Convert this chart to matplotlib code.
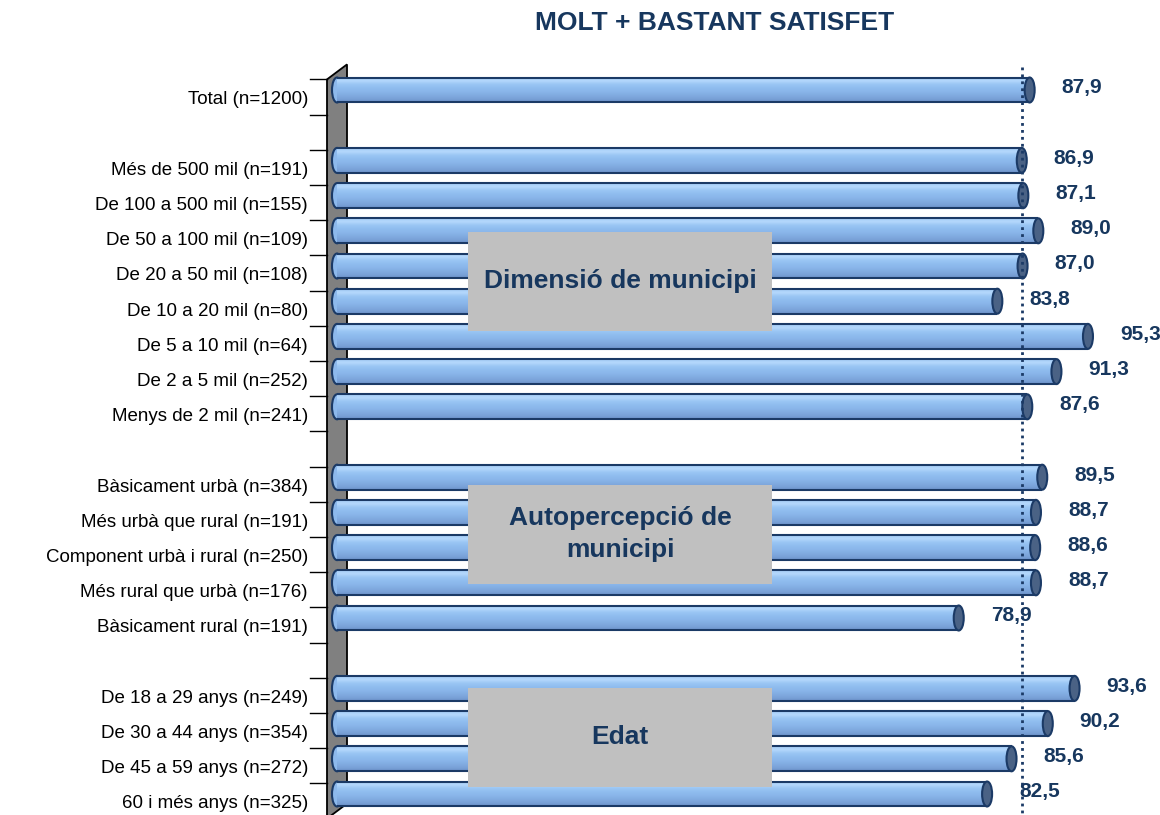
import numpy as np
import matplotlib
matplotlib.use("Agg")
import matplotlib.pyplot as plt
from matplotlib.patches import Ellipse, Polygon, Rectangle
from matplotlib.colors import to_rgb
from matplotlib.transforms import ScaledTranslation

plt.rcParams["font.family"] = ["Liberation Sans", "DejaVu Sans"]

title = "MOLT + BASTANT SATISFET"

total_labels = ["Total (n=1200)"]
total_values = [87.9]

size_labels = [
    "Més de 500 mil (n=191)",
    "De 100 a 500 mil (n=155)",
    "De 50 a 100 mil (n=109)",
    "De 20 a 50 mil (n=108)",
    "De 10 a 20 mil (n=80)",
    "De 5 a 10 mil (n=64)",
    "De 2 a 5 mil (n=252)",
    "Menys de 2 mil (n=241)",
]
size_values = [86.9, 87.1, 89.0, 87.0, 83.8, 95.3, 91.3, 87.6]

self_labels = [
    "Bàsicament urbà (n=384)",
    "Més urbà que rural (n=191)",
    "Component urbà i rural (n=250)",
    "Més rural que urbà (n=176)",
    "Bàsicament rural (n=191)",
]
self_values = [89.5, 88.7, 88.6, 88.7, 78.9]

age_labels = [
    "De 18 a 29 anys (n=249)",
    "De 30 a 44 anys (n=354)",
    "De 45 a 59 anys (n=272)",
    "60 i més anys (n=325)",
]
age_values = [93.6, 90.2, 85.6, 82.5]

group_names = [None, "Dimensió de municipi", "Autopercepció de\nmunicipi", "Edat"]
box_shift = [0, -0.06, -0.38, -0.11]   # box centre relative to group middle (slots)

groups = [
    (total_labels, total_values),
    (size_labels, size_values),
    (self_labels, self_values),
    (age_labels, age_values),
]

NAVY = "#17375E"
EDGE = "#1B3A66"

# slots: one blank row between groups
labels, values, slots, group_spans = [], [], [], []
pos = 0
for labs, vals in groups:
    start = pos
    for lab, val in zip(labs, vals):
        labels.append(lab)
        values.append(val)
        slots.append(pos)
        pos += 1
    group_spans.append((start, pos - 1))
    pos += 1
n_slots = pos - 1

fig = plt.figure(figsize=(11.6, 8.15), dpi=100)
px_per_unit = 7.88
ax = fig.add_axes([337 / 1160, 3.4 / 815, 823 / 1160, 739.2 / 815])
ax.set_xlim(0, 823 / px_per_unit)
ax.set_ylim(n_slots - 0.5, -0.5)
ax.axis("off")
u = 1 / px_per_unit          # data units per pixel (x)
s = 1 / 35.2                 # slots per pixel (y)

# front plane of the 3D chart is shifted left / down
front = ax.transData + ScaledTranslation(-8 / 100, -7 / 100, fig.dpi_scale_trans)

# back wall
top, bot = -0.5, n_slots - 0.5
wall = Polygon(
    [(-2 * u, top), (18 * u, top - 15 * s), (18 * u, bot - 15 * s), (-2 * u, bot)],
    closed=True, facecolor="#808080", edgecolor="black", linewidth=1.3,
    transform=front, clip_on=False, zorder=1,
)
ax.add_patch(wall)

# tick marks at the slot boundaries
for b in np.arange(top, bot + 0.01, 1.0):
    ax.plot([-19 * u, -2 * u], [b, b], color="black", lw=1.0,
            transform=front, clip_on=False, zorder=1)

# category labels
for lab, y in zip(labels, slots):
    ax.text(-21 * u, y + 3 * s, lab, ha="right", va="center", fontsize=13.5,
            color="black", transform=front, clip_on=False)

# cylinder bars
stops = ["#A6CDF8", "#B4D8FC", "#9AC6F4", "#90BDEF", "#8AB6EA", "#82ADE2", "#7AA2D8", "#6E95CC"]
grad = np.array([to_rgb(c) for c in stops])
fine = np.linspace(0, 1, 60)
grad = np.stack([np.interp(fine, np.linspace(0, 1, len(stops)), grad[:, k]) for k in range(3)], axis=1)
grad = grad[:, None, :]

h = 0.71
cap_w = 10 * u
for v, y in zip(values, slots):
    ax.add_patch(Ellipse((0, y), cap_w, h, facecolor="#8DB9EC", edgecolor=EDGE,
                         lw=1.5, zorder=2, clip_on=False))
    ax.imshow(grad, extent=(0, v, y + h / 2, y - h / 2), origin="upper",
              aspect="auto", interpolation="bilinear", zorder=3)
    ax.hlines([y - h / 2, y + h / 2], 0, v, color=EDGE, lw=1.5, zorder=4)
    ax.add_patch(Ellipse((v, y), cap_w, h, facecolor="#4A6285", edgecolor=EDGE,
                         lw=1.5, zorder=5))
    ax.annotate(f"{v:.1f}".replace(".", ","), (v, y), xytext=(23, 1.5),
                textcoords="offset points", ha="left", va="center",
                fontsize=15, fontweight="bold", color=NAVY, zorder=6,
                annotation_clip=False)

ax.set_xlim(0, 823 / px_per_unit)
ax.set_ylim(n_slots - 0.5, -0.5)

# reference line at the total
ax.plot([total_values[0]] * 2, [top - 12 * s, bot + 1], color=EDGE, lw=2,
        linestyle=(0, (1, 1.5)), transform=front, clip_on=False, zorder=7)

# group boxes
box_x0, box_x1 = 131 * u, 435 * u
for name, (a, b), dy in zip(group_names, group_spans, box_shift):
    if name is None:
        continue
    mid = (a + b) / 2 + dy
    ax.add_patch(Rectangle((box_x0, mid - 1.4), box_x1 - box_x0, 2.8,
                           facecolor="#C0C0C0", edgecolor="none", zorder=8))
    ax.text((box_x0 + box_x1) / 2, mid, name, ha="center", va="center",
            fontsize=19, fontweight="bold", color=NAVY, zorder=9,
            linespacing=1.4)

fig.text(714.5 / 1160, 1 - 23 / 815, title, ha="center", va="center",
         fontsize=19, fontweight="bold", color=NAVY)

fig.savefig("out.png", dpi=100, facecolor="white")
